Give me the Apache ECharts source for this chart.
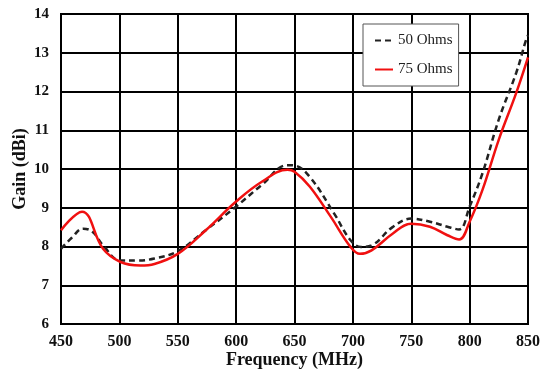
<!DOCTYPE html>
<html>
<head>
<meta charset="utf-8">
<script src="https://cdn.jsdelivr.net/npm/echarts@6/dist/echarts.min.js"></script>
<style>html,body{margin:0;padding:0;background:#fff}#c{width:541px;height:370px}</style>
</head>
<body>
<div id="c"></div>
<script>
var freqTicks = [450, 500, 550, 600, 650, 700, 750, 800, 850];
var gainTicks = [6, 7, 8, 9, 10, 11, 12, 13, 14];

var freq50 = [450, 459, 469, 477, 486, 501, 515, 530, 550, 574, 600, 622, 644, 650, 663, 684, 698, 707, 716, 734, 750, 766, 781, 791, 800, 811, 825, 840, 848, 850];
var gain50 = [7.94, 8.22, 8.46, 8.38, 8.03, 7.64, 7.64, 7.69, 7.88, 8.42, 9.03, 9.59, 10.1, 10.09, 9.8, 8.85, 8.16, 7.99, 8.03, 8.5, 8.72, 8.64, 8.51, 8.44, 9.03, 9.89, 11.28, 12.49, 13.3, 13.45];

var freq75 = [450, 468, 486, 501, 518, 530, 550, 574, 600, 622, 644, 650, 663, 681, 698, 706, 716, 734, 750, 766, 781, 791, 800, 811, 825, 840, 850];
var gain75 = [8.42, 8.9, 7.94, 7.6, 7.51, 7.55, 7.81, 8.42, 9.16, 9.67, 9.98, 9.93, 9.55, 8.77, 7.99, 7.81, 7.9, 8.33, 8.59, 8.51, 8.29, 8.18, 8.64, 9.46, 10.76, 11.97, 12.88];

function pairs(xs, ys) { return xs.map(function (x, i) { return [x, ys[i]]; }); }

var serif = '"Liberation Serif", "DejaVu Serif", serif';
var chart = echarts.init(document.getElementById('c'), null, { renderer: 'canvas' });
chart.setOption({
  animation: false,
  backgroundColor: '#fff',
  grid: { left: 61, right: 13, top: 14, bottom: 46, outerBoundsMode: 'none', containLabel: false, show: true, borderColor: '#000', borderWidth: 2, backgroundColor: 'transparent' },
  xAxis: {
    type: 'value', min: freqTicks[0], max: freqTicks[freqTicks.length - 1], interval: 50,
    name: 'Frequency (MHz)', nameLocation: 'middle', nameGap: 27, nameMoveOverlap: false,
    nameTextStyle: { fontFamily: serif, fontWeight: 'bold', fontSize: 18, color: '#111' },
    axisLine: { lineStyle: { color: '#000', width: 2 } },
    axisTick: { show: false },
    axisLabel: { fontFamily: serif, fontWeight: 'bold', fontSize: 16, color: '#111', margin: 10 },
    splitLine: { show: true, lineStyle: { color: '#000', width: 2 } }
  },
  yAxis: {
    type: 'value', min: gainTicks[0], max: gainTicks[gainTicks.length - 1], interval: 1,
    name: 'Gain (dBi)', nameLocation: 'middle', nameGap: 32, nameMoveOverlap: false,
    nameTextStyle: { fontFamily: serif, fontWeight: 'bold', fontSize: 18, color: '#111' },
    axisLine: { lineStyle: { color: '#000', width: 2 } },
    axisTick: { show: false },
    axisLabel: { fontFamily: serif, fontWeight: 'bold', fontSize: 15, color: '#111', margin: 12 },
    splitLine: { show: true, lineStyle: { color: '#000', width: 2 } }
  },
  legend: {
    orient: 'vertical', left: 363, top: 24,
    padding: [9, 6, 9, 11], itemGap: 14, itemWidth: 18, itemHeight: 14,
    backgroundColor: '#fff', borderColor: '#555', borderWidth: 1,
    itemStyle: { opacity: 0 },
    textStyle: { fontFamily: serif, fontSize: 15, color: '#222' },
    data: ['50 Ohms', '75 Ohms']
  },
  series: [
    {
      name: '50 Ohms', type: 'line', smooth: 0.4, symbol: 'none',
      data: pairs(freq50, gain50),
      lineStyle: { color: '#222', width: 2.5, type: [6, 4] },
      itemStyle: { color: '#222' }, z: 3
    },
    {
      name: '75 Ohms', type: 'line', smooth: 0.4, symbol: 'none',
      data: pairs(freq75, gain75),
      lineStyle: { color: '#f01010', width: 2.5 },
      itemStyle: { color: '#f01010' }, z: 4
    }
  ]
});
</script>
</body>
</html>
